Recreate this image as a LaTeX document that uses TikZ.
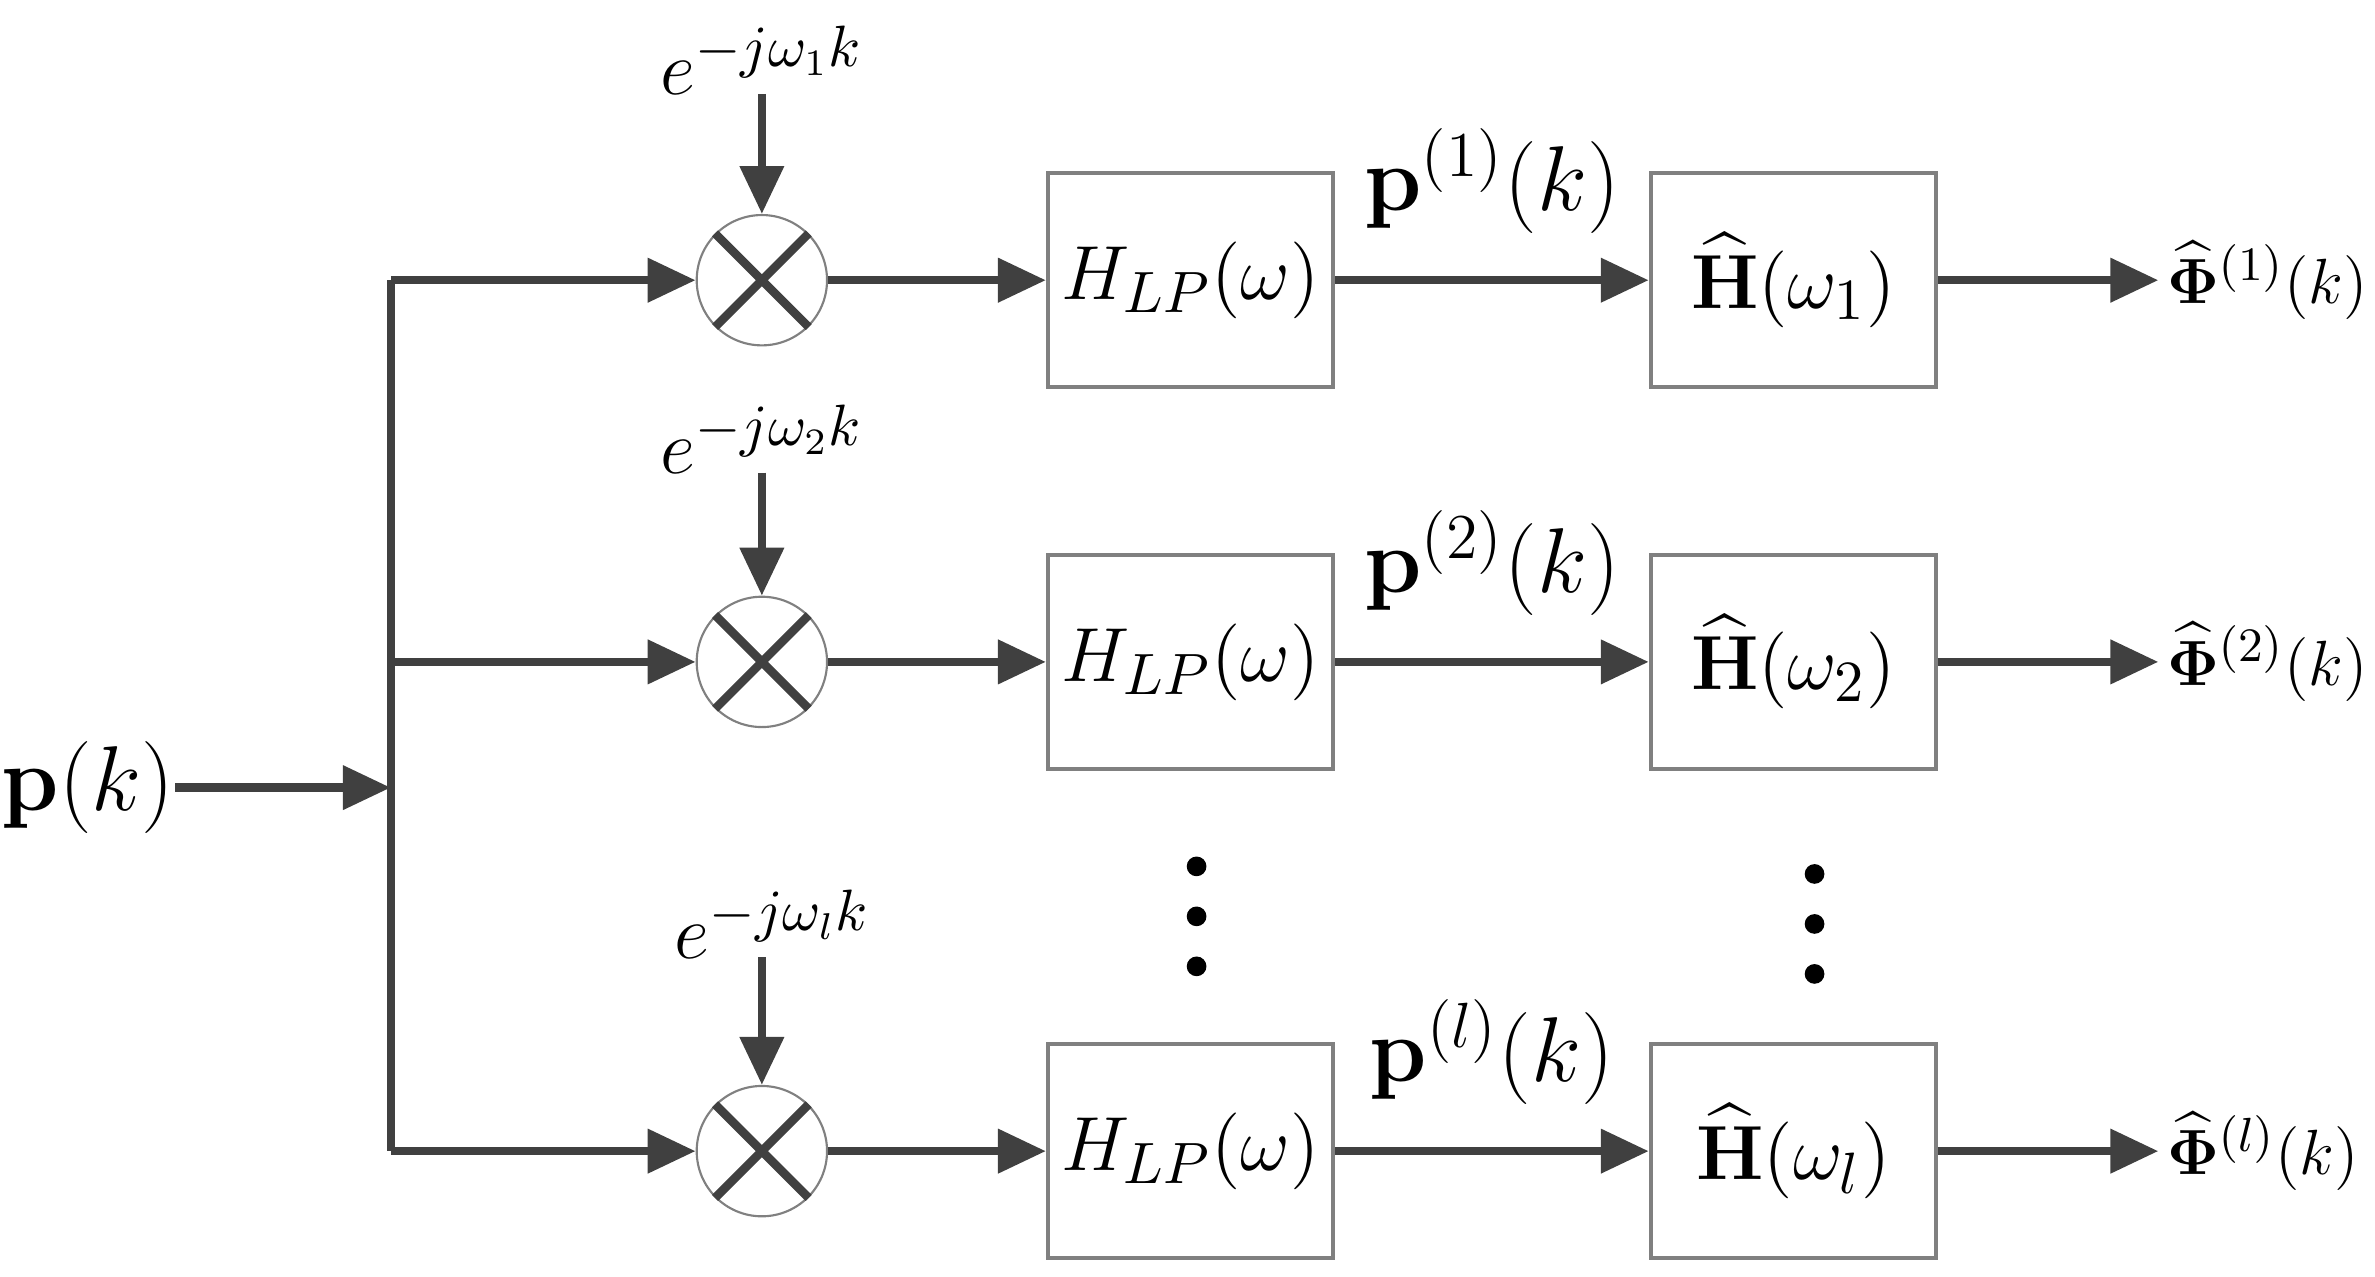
\documentclass[tikz,border=0pt]{standalone}
\usepackage{amsmath,bm}
\usetikzlibrary{arrows.meta}
\definecolor{linegray}{RGB}{64,64,64}
\tikzset{
  sig/.style={draw=linegray, line width=1.6pt, -{Triangle[length=9pt,width=8pt]}},
  blk/.style={draw=gray, line width=0.8pt, minimum width=1.88cm, minimum height=1.41cm, inner sep=0pt, font=\fontsize{15.5}{18}\selectfont},
  mult/.style={draw=gray, circle, minimum size=0.86cm, inner sep=0pt},
  lbl/.style={inner sep=0pt, font=\fontsize{17}{20}\selectfont},
  dot/.style={circle, fill=black, inner sep=0pt, minimum size=0.13cm}
}
\begin{document}
\begin{tikzpicture}[x=0.01cm,y=-0.01cm]
\useasboundingbox (0,0) rectangle (1568,843);
\node[lbl] (in) at (58,520) {$\mathbf{p}(k)$};
\coordinate (split) at (258,520);
\draw[sig] (in.east) -- (split);
\draw[linegray, line width=1.6pt] (258,185) -- (258,760);
\foreach \r/\y/\w/\ex/\ey/\s in {1/185/1/503/40/1, 2/437/2/503/290/2, 3/760/l/510/610/l} {
  \coordinate (br\r) at (258,\y);
  \node[mult] (m\r) at (503,\y) {};
  \draw[linegray, line width=1.6pt] (m\r.north east) -- (m\r.south west) (m\r.north west) -- (m\r.south east);
  \node[lbl, font=\fontsize{15}{18}\selectfont] (e\r) at (\ex,\ey) {$e^{-j\omega_{\w}k}$};
  \coordinate (et\r) at (503,\ey+22);
  \draw[sig] (et\r) -- (m\r.north);
  \draw[sig] (br\r) -- (m\r.west);
  \node[blk] (h\r) at (786,\y) {$H_{LP}(\omega)$};
  \node[blk] (g\r) at (1184,\y) {$\widehat{\mathbf{H}}(\omega_{\w})$};
  \draw[sig] (m\r.east) -- (h\r.west);
  \draw[sig] (h\r.east) -- node[lbl, above=8pt] {$\mathbf{p}^{(\s)}(k)$} (g\r.west);
  \coordinate (o\r) at (1425,\y);
  \draw[sig] (g\r.east) -- (o\r);
  \node[lbl, anchor=west, font=\fontsize{13}{16}\selectfont] (out\r) at (1430,\y) {$\widehat{\bm{\Phi}}^{(\s)}(k)$};
}
\foreach \i/\y in {1/572,2/605,3/638} {
  \node[dot] (da\i) at (790,\y) {};
  \node[dot] (db\i) at (1198,\y+5) {};
}
\end{tikzpicture}
\end{document}
